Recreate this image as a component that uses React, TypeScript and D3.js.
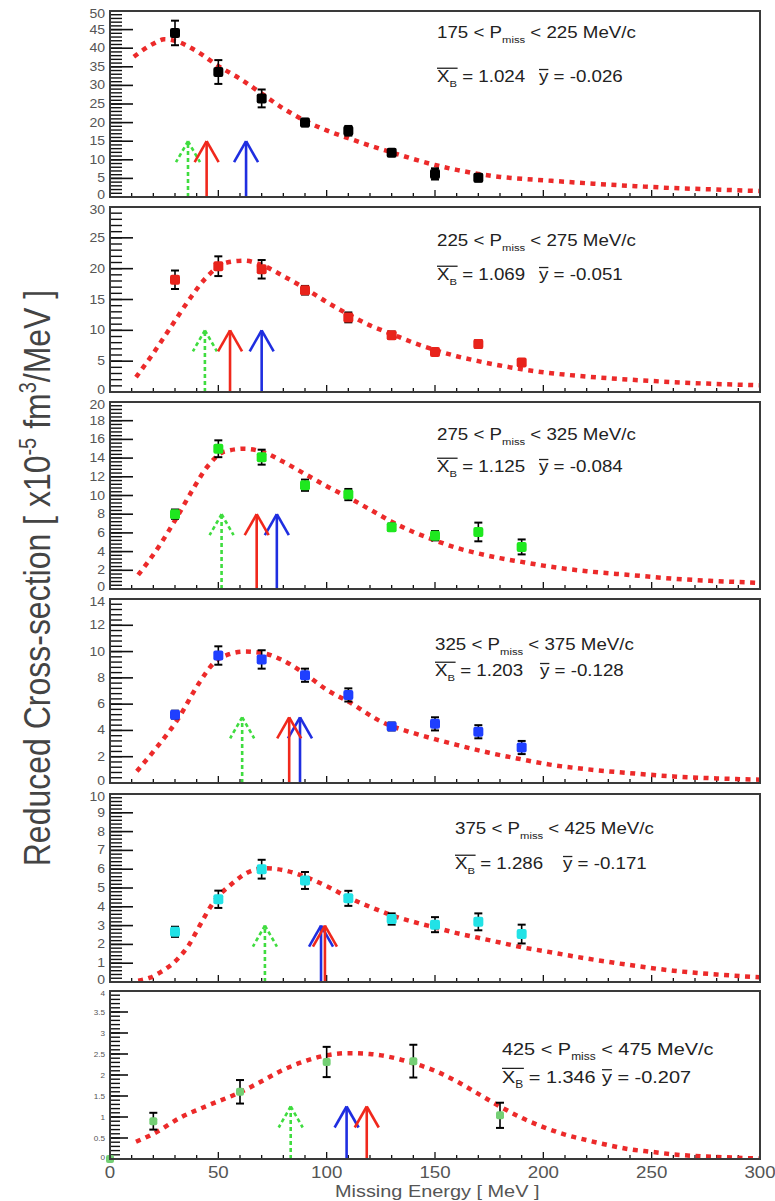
import React from 'react';
import * as d3 from 'd3';

// ---------- data ----------
const P1_X = [30, 50, 70, 90, 110, 130, 150, 170];
const P1_Y = [44.1, 33.6, 26.5, 20.0, 17.8, 11.9, 6.2, 5.2];
const P1_E = [3.3, 3.2, 2.4, 1.0, 1.3, 0.6, 1.5, 1.0];

const P2_X = [30, 50, 70, 90, 110, 130, 150, 170, 190];
const P2_Y = [18.2, 20.4, 19.9, 16.5, 12.1, 9.2, 6.5, 7.8, 4.8];
const P2_E = [1.5, 1.6, 1.5, 0.7, 0.8, 0.6, 0.5, 0.6, 0.5];

const P3_X = [30, 50, 70, 90, 110, 130, 150, 170, 190];
const P3_Y = [8.0, 15.0, 14.1, 11.1, 10.1, 6.6, 5.7, 6.1, 4.5];
const P3_E = [0.5, 0.9, 0.8, 0.6, 0.6, 0.4, 0.5, 1.0, 0.8];

const P4_X = [30, 50, 70, 90, 110, 130, 150, 170, 190];
const P4_Y = [5.2, 9.7, 9.4, 8.2, 6.7, 4.3, 4.5, 3.9, 2.7];
const P4_E = [0.3, 0.7, 0.7, 0.5, 0.5, 0.3, 0.5, 0.5, 0.5];

const P5_X = [30, 50, 70, 90, 110, 130, 150, 170, 190];
const P5_Y = [2.67, 4.4, 6.0, 5.4, 4.45, 3.35, 3.05, 3.2, 2.55];
const P5_E = [0.27, 0.46, 0.5, 0.45, 0.4, 0.3, 0.4, 0.45, 0.5];

const P6_X = [0, 20, 60, 100, 140, 180];
const P6_Y = [0, 0.9, 1.6, 2.31, 2.33, 1.04];
const P6_E = [0, 0.2, 0.28, 0.36, 0.39, 0.3];

const C1_X = [11, 20, 25, 30, 40, 50, 60, 70, 80, 90, 100, 110, 120, 130, 140, 150, 160, 170, 180, 190, 200, 220, 240, 260, 280, 300];
const C1_Y = [37.7, 41.2, 42.4, 42.0, 39.2, 35.2, 31.8, 27.8, 23.8, 20.5, 17.9, 15.8, 13.8, 12.0, 10.2, 8.6, 7.3, 6.2, 5.4, 4.9, 4.5, 3.7, 3.0, 2.4, 2.0, 1.6];
const C2_X = [12, 20, 28, 37.8, 44, 54, 62, 70, 80, 90, 100, 110, 120, 130, 140, 150, 160, 170, 180, 190, 200, 220, 240, 260, 280, 300];
const C2_Y = [2.4, 6.3, 10.5, 15.6, 18.4, 21.0, 21.3, 20.6, 18.8, 16.8, 14.6, 12.6, 10.8, 9.4, 8.0, 6.8, 5.8, 5.0, 4.3, 3.7, 3.2, 2.5, 2.0, 1.6, 1.3, 1.1];
const C3_X = [13, 23, 30.7, 37.6, 45, 52.8, 62, 70, 80, 90, 100, 110, 120, 130, 140, 150, 160, 170, 180, 190, 200, 220, 240, 260, 280, 300];
const C3_Y = [1.5, 4.7, 7.6, 10.4, 13.1, 14.7, 15.0, 14.7, 13.6, 12.3, 11.0, 9.8, 8.5, 7.2, 6.1, 5.2, 4.4, 3.8, 3.3, 2.9, 2.5, 1.9, 1.5, 1.1, 0.85, 0.65];
const C4_X = [12.4, 22, 31.5, 40.7, 48.3, 55, 62, 70, 79, 90, 100, 110, 126, 140, 150.7, 160, 175, 190, 203, 220, 240, 260, 280, 300];
const C4_Y = [0.9, 2.8, 4.9, 7.5, 9.2, 9.8, 10.0, 9.9, 9.4, 8.3, 7.1, 6.2, 4.6, 3.8, 3.3, 2.9, 2.3, 1.8, 1.4, 1.05, 0.75, 0.5, 0.35, 0.25];
const C5_X = [13, 18.5, 23, 31.5, 36, 41.4, 47.5, 56, 65, 72, 80, 90, 100, 110, 120, 130, 140, 150, 160, 170, 180, 190, 200, 220, 240, 260, 280, 300];
const C5_Y = [0.07, 0.23, 0.5, 1.26, 1.9, 3.0, 4.2, 5.2, 5.9, 6.05, 5.95, 5.6, 5.1, 4.5, 4.0, 3.55, 3.2, 2.9, 2.6, 2.35, 2.1, 1.85, 1.65, 1.25, 0.9, 0.6, 0.4, 0.25];
const C6_X = [12, 20, 33, 45, 60.5, 70, 79, 90, 100, 110, 120, 130, 140, 150, 160, 170, 180, 190, 200, 210, 220, 230, 240, 250, 260, 280, 300];
const C6_Y = [0.41, 0.6, 1.0, 1.27, 1.6, 1.85, 2.1, 2.33, 2.47, 2.52, 2.5, 2.42, 2.28, 2.1, 1.85, 1.55, 1.25, 0.98, 0.76, 0.58, 0.45, 0.33, 0.23, 0.17, 0.11, 0.05, 0.01];

// arrows: [green (dashed), red, blue] positions in MeV, and tip heights
const ARROW_X = [
  [36, 44.6, 62.8],
  [43.8, 55.4, 70],
  [51.5, 67.7, 77],
  [61, 82.7, 87.7],
  [71.5, 99.2, 97.4],
  [83.4, 118.5, 109.2],
];
const ARROW_TIP = [15, 10, 8, 5, 3, 1.25];

const Y_MAX = [50, 30, 20, 14, 10, 4];
const Y_MAJOR = [5, 5, 2, 2, 1, 0.5];
const Y_MINOR = [1, 1, 0.4, 0.4, 0.2, 0.1];

const PMISS_LABELS = [
  ['175', '225'], ['225', '275'], ['275', '325'], ['325', '375'], ['375', '425'], ['425', '475'],
];
const XB_LABELS = ['1.024', '1.069', '1.125', '1.203', '1.286', '1.346'];
const YB_LABELS = ['-0.026', '-0.051', '-0.084', '-0.128', '-0.171', '-0.207'];

const X_TICKS = [0, 50, 100, 150, 200, 250, 300];
const MARKER_COLORS = ['#000000', '#e8231b', '#1fe81f', '#1f3fff', '#22e2e6', '#74cf74'];

const PANEL_X = [P1_X, P2_X, P3_X, P4_X, P5_X, P6_X];
const PANEL_Y = [P1_Y, P2_Y, P3_Y, P4_Y, P5_Y, P6_Y];
const PANEL_E = [P1_E, P2_E, P3_E, P4_E, P5_E, P6_E];
const CURVE_X = [C1_X, C2_X, C3_X, C4_X, C5_X, C6_X];
const CURVE_Y = [C1_Y, C2_Y, C3_Y, C4_Y, C5_Y, C6_Y];

// ---------- layout ----------
const W = 775, H = 1201;
const LEFT = 110, RIGHT = 760;
const PANELS = [[11, 197], [207, 392], [402, 589], [599, 783], [794, 982], [991, 1159]];
const LABEL_POS = [
  { x: 437, y1: 38, y2: 82, fs: 16, off: 102 },
  { x: 437, y1: 246, y2: 280, fs: 16, off: 102 },
  { x: 437, y1: 440, y2: 472, fs: 16, off: 102 },
  { x: 435, y1: 650, y2: 676, fs: 16, off: 105 },
  { x: 455, y1: 834, y2: 869, fs: 16, off: 108 },
  { x: 502, y1: 1055, y2: 1083, fs: 17, off: 100 },
];
const SX = 1.17;
const FONT = 'Liberation Sans, Arial, Helvetica, sans-serif';

const xScale = d3.scaleLinear().domain([0, 300]).range([LEFT, RIGHT]);

function SText({ x, y, fs, anchor = 'start', fill = '#222', children }: any) {
  return (
    <g transform={`translate(${x},${y}) scale(${SX},1)`}>
      <text fontSize={fs} textAnchor={anchor} fill={fill} fontFamily={FONT}>{children}</text>
    </g>
  );
}

function Arrow({ x, yBase, yTip, color, dashed }: any) {
  const sw = 2.6;
  const dash = dashed ? '4 3' : undefined;
  return (
    <g stroke={color} strokeWidth={sw} fill="none" strokeDasharray={dash}>
      <line x1={x} x2={x} y1={yBase} y2={yTip} />
      <line x1={x} x2={x - 12} y1={yTip} y2={yTip + 21} />
      <line x1={x} x2={x + 12} y1={yTip} y2={yTip + 21} />
    </g>
  );
}

function Panel({ i }: { i: number }) {
  const [top, bottom] = PANELS[i];
  const y = d3.scaleLinear().domain([0, Y_MAX[i]]).range([bottom, top]);
  const majors = d3.range(0, Y_MAX[i] + 1e-6, Y_MAJOR[i]);
  const minors = d3.range(0, Y_MAX[i] + 1e-6, Y_MINOR[i]);
  const small = i === 5;
  const majLen = small ? 18 : 23;
  const minLen = small ? 10 : 12;
  const line = d3.line<number>()
    .x((_, k) => xScale(CURVE_X[i][k]))
    .y((v) => y(v))
    .curve(d3.curveMonotoneX);
  const xMinor = d3.range(0, 301, 10);
  const lp = LABEL_POS[i];
  const [g, r, b] = ARROW_X[i];
  const yTip = y(ARROW_TIP[i]);
  const msize = small ? 8 : 10;
  const fmt = (v: number) => (Y_MAJOR[i] < 1 ? d3.format('~g')(+v.toFixed(2)) : d3.format('d')(v));
  const labelShift = (v: number) => {
    if (v === 0) return -2;
    if (Math.abs(v - Y_MAX[i]) < 1e-6) return 2.5;
    return 0;
  };
  return (
    <g>
      <defs>
        <clipPath id={`clip${i}`}>
          <rect x={LEFT} y={top} width={RIGHT - LEFT} height={bottom - top} />
        </clipPath>
      </defs>
      {/* y ticks */}
      {minors.map((v, k) => (
        <line key={'mn' + k} x1={LEFT} x2={LEFT + minLen} y1={y(v)} y2={y(v)} stroke="#111" strokeWidth={1.4} />
      ))}
      {majors.map((v, k) => (
        <line key={'mj' + k} x1={LEFT} x2={LEFT + majLen} y1={y(v)} y2={y(v)} stroke="#111" strokeWidth={1.6} />
      ))}
      {majors.map((v, k) => (
        <SText key={'yl' + k} x={105} y={y(v) + (small ? 2.5 : 4) + labelShift(v)} fs={small ? 7 : 12} anchor="end" fill="#555">
          {fmt(v)}
        </SText>
      ))}
      {/* x ticks */}
      {xMinor.map((v) => (
        <line key={'xt' + v} x1={xScale(v)} x2={xScale(v)} y1={bottom} y2={bottom - (v % 50 === 0 ? 7 : 4)} stroke="#111" strokeWidth={1.3} />
      ))}
      {/* curve */}
      <path
        d={line(CURVE_Y[i]) || ''}
        fill="none"
        stroke="#ec2a2a"
        strokeWidth={4.5}
        strokeDasharray="5 5.5"
        clipPath={`url(#clip${i})`}
      />
      {/* arrows */}
      <Arrow x={xScale(g)} yBase={bottom} yTip={yTip} color="#3fdc3f" dashed />
      <Arrow x={xScale(b)} yBase={bottom} yTip={yTip} color="#1f2ee0" />
      <Arrow x={xScale(r)} yBase={bottom} yTip={yTip} color="#f0281c" />
      {/* data */}
      {PANEL_X[i].map((xv, k) => {
        const cx = xScale(xv);
        const cy = y(PANEL_Y[i][k]);
        const e = PANEL_E[i][k];
        const yt = y(PANEL_Y[i][k] + e);
        const yb = y(PANEL_Y[i][k] - e);
        return (
          <g key={'pt' + k}>
            {e > 0 && (
              <g stroke="#000" strokeWidth={1.6}>
                <line x1={cx} x2={cx} y1={yt} y2={yb} />
                <line x1={cx - 4} x2={cx + 4} y1={yt} y2={yt} strokeWidth={2} />
                <line x1={cx - 4} x2={cx + 4} y1={yb} y2={yb} strokeWidth={2} />
              </g>
            )}
            <rect x={cx - msize / 2} y={cy - msize / 2} width={msize} height={msize} rx={2} fill={MARKER_COLORS[i]} />
          </g>
        );
      })}
      {/* frame */}
      <rect x={LEFT} y={top} width={RIGHT - LEFT} height={bottom - top} fill="none" stroke="#3a3a3a" strokeWidth={2} />
      {/* labels */}
      <SText x={lp.x} y={lp.y1} fs={lp.fs}>
        {PMISS_LABELS[i][0]} &lt; P
        <tspan fontSize={lp.fs * 0.6} dy={lp.fs * 0.3}>miss</tspan>
        <tspan dy={-lp.fs * 0.3}> &lt; {PMISS_LABELS[i][1]} MeV/c</tspan>
      </SText>
      <g transform={`translate(${lp.x},${lp.y2}) scale(${SX},1)`}>
        <text fontSize={lp.fs} fill="#222" fontFamily={FONT}>
          X<tspan fontSize={lp.fs * 0.6} dy={lp.fs * 0.3}>B</tspan>
          <tspan dy={-lp.fs * 0.3}> = {XB_LABELS[i]}</tspan>
        </text>
        <line x1={0} x2={lp.fs * 1.1} y1={-lp.fs * 0.86} y2={-lp.fs * 0.86} stroke="#222" strokeWidth={1.3} />
      </g>
      <g transform={`translate(${lp.x + lp.off},${lp.y2}) scale(${SX},1)`}>
        <text fontSize={lp.fs} fill="#222" fontFamily={FONT}>
          y = {YB_LABELS[i]}
        </text>
        <line x1={0} x2={lp.fs * 0.5} y1={-lp.fs * 0.78} y2={-lp.fs * 0.78} stroke="#222" strokeWidth={1.3} />
      </g>
    </g>
  );
}

export default function App() {
  return (
    <svg width={W} height={H} style={{ position: 'absolute', left: 0, top: 0, background: '#fff' }}>
      <rect width={W} height={H} fill="#fff" />
      {PANELS.map((_, i) => <Panel key={i} i={i} />)}
      {X_TICKS.map((v) => (
        <SText key={'xl' + v} x={xScale(v)} y={1178} fs={16} anchor="middle" fill="#555">{v}</SText>
      ))}
      <SText x={335} y={1197} fs={17} fill="#555">Missing Energy [ MeV ]</SText>
      <g transform="translate(50,578) rotate(-90) scale(1,1.17)">
        <text fontSize={32} textAnchor="middle" fill="#444" fontFamily={FONT}>
          Reduced Cross-section [ x10<tspan fontSize={20} dy={-12}>-5</tspan>
          <tspan dy={12}> fm</tspan><tspan fontSize={20} dy={-12}>3</tspan>
          <tspan dy={12}>/MeV ]</tspan>
        </text>
      </g>
    </svg>
  );
}
